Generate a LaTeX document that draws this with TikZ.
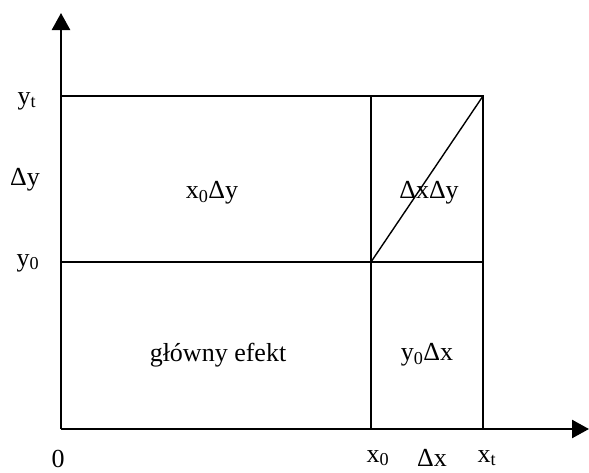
\documentclass[tikz,border=0pt]{standalone}
\usepackage{fontspec}
\setmainfont{Liberation Serif}
\usetikzlibrary{arrows.meta}
\begin{document}
\begin{tikzpicture}[x=1pt,y=-1pt,
  axis/.style={line width=2.5pt,-{Triangle[length=17pt,width=18pt]}},
  grid/.style={line width=1.4pt},
  lbl/.style={font=\fontsize{26}{30}\selectfont,inner sep=0pt}]
\useasboundingbox (0,0) rectangle (589,472);
\coordinate (O) at (61,429);
\coordinate (ytop) at (61,13);
\coordinate (xend) at (589,429);
\coordinate (A) at (61,96);
\coordinate (B) at (483,96);
\coordinate (C) at (61,262);
\coordinate (D) at (483,262);
\coordinate (E) at (371,96);
\coordinate (F) at (371,262);
\coordinate (G) at (371,429);
\coordinate (H) at (483,429);
\draw[grid] (A) -- (B) -- (H);
\draw[grid] (C) -- (D);
\draw[grid] (E) -- (G);
\draw[grid] (F) -- (B);
\draw[axis] (O) -- (ytop);
\draw[axis] (O) -- (xend);
\node[lbl] (yt) at (27,101) {y\textsubscript{t}};
\node[lbl] (dy) at (25,180) {Δy};
\node[lbl] (y0) at (28,263) {y\textsubscript{0}};
\node[lbl] (zero) at (58,459) {0};
\node[lbl] (x0) at (378,458) {x\textsubscript{0}};
\node[lbl] (dx) at (432,458) {Δx};
\node[lbl] (xt) at (487,458) {x\textsubscript{t}};
\node[lbl] (x0dy) at (212,193) {x\textsubscript{0}Δy};
\node[lbl] (dxdy) at (429,193) {ΔxΔy};
\node[lbl] (glowny) at (218,355) {główny efekt};
\node[lbl] (y0dx) at (427,355) {y\textsubscript{0}Δx};
\end{tikzpicture}
\end{document}
